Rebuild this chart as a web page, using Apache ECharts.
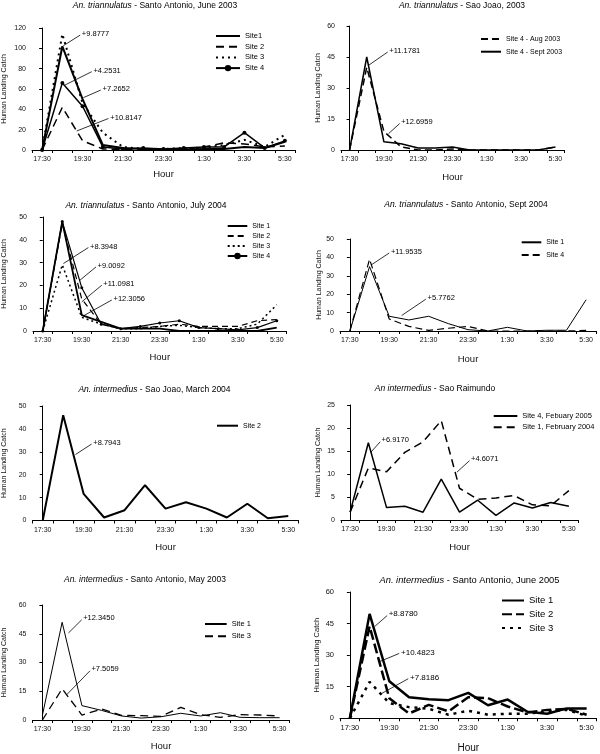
<!DOCTYPE html>
<html><head><meta charset="utf-8">
<script src="https://cdn.jsdelivr.net/npm/echarts@6/dist/echarts.min.js"></script>
<style>html,body{margin:0;padding:0;background:#fff}#c{width:600px;height:754px}</style>
</head><body><div id="c"></div>
<script>
// ---- data ----
const hours = ['17:30','18:30','19:30','20:30','21:30','22:30','23:30','0:30','1:30','2:30','3:30','4:30','5:30'];

const p1Names = ['Site1','Site 2','Site 3','Site 4'];
const p1Site1 = [0, 102, 50, 5, 2, 1, 0.5, 0.5, 1, 1, 3, 2, 8];
const p1Site2 = [0, 42, 9, 1, 0.5, 0.5, 0.5, 1, 3, 7, 6, 3, 4];
const p1Site3 = [0, 114, 46, 17, 3, 1, 1, 2, 2, 5, 10, 3, 15];
const p1Site4 = [0, 66, 43, 3, 1, 2, 1, 2, 3, 3, 17, 2, 9];
const p1Notes = [[1.05,102.6,1.88,113,'+9.8777'],[1.14,64,2.45,77,'+4.2531'],[2.04,51.5,2.9,59,'+7.2652'],[1.71,18.7,3.28,31,'+10.8147']];

const p2Names = ['Site 4 - Aug 2003','Site 4 - Sept 2003'];
const p2Aug  = [0, 40, 9, 1.5, 0, 0, 0.5, 0, 0, 0, 0, 0, 1.5];
const p2Sept = [0, 45, 4, 3, 1, 1, 1.5, 0, 0, 0, 0, 0, 1.5];
const p2Notes = [[1.11,41,2.22,47.4,'+11.1781'],[2.27,7.9,2.92,12.8,'+12.6959']];

const p3Names = ['Site 1','Site 2','Site 3','Site 4'];
const p3Site1 = [0, 48, 7, 4, 1, 1, 1, 0, 0, 0, 0, 0, 1.5];
const p3Site2 = [0, 47, 14, 3, 1, 1.5, 2, 3, 2, 2, 2, 4.5, 5];
const p3Site3 = [0, 29, 6, 3, 1, 1, 2, 2.5, 1.5, 1, 1, 3, 11.5];
const p3Site4 = [0, 48, 19, 3, 1, 2, 3.5, 4.5, 1.5, 1, 0.5, 1.5, 4.5];
const p3Notes = [[1.06,29.6,2.34,36.6,'+8.3948'],[1.91,22.3,2.73,28.1,'+9.0092'],[2.0,12.8,3.03,20.1,'+11.0981'],[2.08,6.6,3.54,13.6,'+12.3056']];

const p4Names = ['Site 1','Site 4'];
const p4Site1 = [0, 35, 8, 6, 8, 4, 0.7, 0, 2, 0, 0.4, 0.4, 17];
const p4Site4 = [0, 39, 6.5, 2.5, 0.3, 1.5, 2.5, 0, 0, 0, 0, 0, 0.3];
const p4Notes = [[1.1,36,2.0,42.4,'+11.9535'],[2.63,8.4,3.86,17.3,'+5.7762']];

const p5Names = ['Site 2'];
const p5Site2 = [0, 46, 11.6, 1.3, 4.5, 15.4, 5.2, 8, 5.2, 1.3, 7.3, 1, 2];
const p5Notes = [[1.6,28.8,2.39,33.4,'+8.7943']];

const p6Names = ['Site 4, Febuary 2005','Site 1, February 2004'];
const p6Site4 = [1.7, 16.8, 2.7, 3, 1.7, 8.9, 1.7, 4.3, 1, 3.7, 2.6, 3.8, 3];
const p6Site1 = [1.7, 11.3, 10.5, 14.7, 17, 21.6, 6.9, 4.5, 4.8, 5.3, 3.3, 3.1, 6.4];
const p6Notes = [[1.13,14.7,1.65,17,'+6.9170'],[5.86,10.4,6.55,12.9,'+4.6071']];

const p7Names = ['Site 1','Site 3'];
const p7Site1 = [2.4, 51, 7.5, 5, 2.1, 1, 1.7, 3.5, 2.1, 3.8, 1.4, 1.2, 1.2];
const p7Site3 = [0, 16.3, 2.6, 5.7, 2.4, 2.3, 1.9, 6.6, 2.8, 1.4, 2.8, 2.6, 2.1];
const p7Notes = [[1.32,45.4,1.99,52.3,'+12.3450'],[1.23,13.2,2.41,25.7,'+7.5059']];

const p8Names = ['Site 1','Site 2','Site 3'];
const p8Site1 = [0, 49.6, 17.6, 10, 9, 8.6, 12.1, 6.2, 8.9, 3.1, 2.2, 4.7, 4.7];
const p8Site2 = [0, 43.7, 9.5, 2.3, 6.4, 3.3, 10, 9.6, 5.6, 2.8, 4, 4.5, 1.7];
const p8Site3 = [0, 17.3, 7.2, 5.3, 4.5, 1.7, 3.6, 1.7, 2.2, 2.2, 3.3, 4, 1.2];
const p8Notes = [[1.27,43.7,1.89,48.8,'+8.8780'],[1.52,27,2.5,30.8,'+10.4823'],[1.61,11.8,2.96,18.8,'+7.8186']];

const titles = [
  ['An. triannulatus',' - Santo Antonio, June 2003'],
  ['An. triannulatus',' - Sao Joao, 2003'],
  ['An. triannulatus',' - Santo Antonio, July 2004'],
  ['An. triannulatus',' - Santo Antonio, Sept 2004'],
  ['An. intermedius',' - Sao Joao, March 2004'],
  ['An intermedius',' - Sao Raimundo'],
  ['An. intermedius',' - Santo Antonio, May 2003'],
  ['An. intermedius',' - Santo Antonio, June 2005']
];
const yMaxes = [120, 60, 50, 50, 50, 25, 60, 60];
const ySteps = [20, 15, 10, 10, 10, 5, 15, 15];

// ---- layout / style ----
const FONT = "'Liberation Sans', Arial, sans-serif";
const panels = [
 { t:[155,6,8.5], grid:{left:32,top:28,width:263,height:122}, hourGap:19, yGap:24, fs:7,
   lg:{left:215,top:32,w:24,gap:2.7,fs:7.5}, notes:p1Notes,
   lines:[{n:p1Names[0],d:p1Site1,w:2},{n:p1Names[1],d:p1Site2,w:1.5,dash:[8,5]},{n:p1Names[2],d:p1Site3,w:2,dash:[2,4]},{n:p1Names[3],d:p1Site4,w:1.5,sym:'circle',ss:4}] },
 { t:[462,6,8.5], grid:{left:341,top:26,width:223,height:124}, hourGap:22, yGap:19.5, fs:7,
   lg:{left:480,top:35,w:20,gap:4.7,fs:7}, notes:p2Notes,
   lines:[{n:p2Names[0],d:p2Aug,w:1.5,dash:[7,4]},{n:p2Names[1],d:p2Sept,w:1.5}] },
 { t:[146,205.3,8.5], grid:{left:33,top:217,width:253.5,height:114}, hourGap:21.3, yGap:25, fs:7,
   lg:{left:226.7,top:222,w:19.6,gap:2,fs:7}, notes:p3Notes,
   lines:[{n:p3Names[0],d:p3Site1,w:1.8},{n:p3Names[1],d:p3Site2,w:1.2,dash:[6,4]},{n:p3Names[2],d:p3Site3,w:1.5,dash:[2,3]},{n:p3Names[3],d:p3Site4,w:1.2,sym:'circle',ss:3}] },
 { t:[466,205,8.5], grid:{left:340,top:239,width:256,height:92}, hourGap:23, yGap:17.7, fs:7,
   lg:{left:520.7,top:238.3,w:19.6,gap:4.7,fs:7}, notes:p4Notes,
   lines:[{n:p4Names[0],d:p4Site1,w:1},{n:p4Names[1],d:p4Site4,w:1.2,dash:[7,4]}] },
 { t:[154.5,390,8.5], grid:{left:32.5,top:406,width:266,height:114.5}, hourGap:22, yGap:24.5, fs:7,
   lg:{left:216,top:421.7,w:21,gap:3,fs:7}, notes:p5Notes,
   lines:[{n:p5Names[0],d:p5Site2,w:2}] },
 { t:[435,389,8.5], grid:{left:341,top:405,width:237,height:115}, hourGap:22.4, yGap:19.7, fs:7,
   lg:{left:492.7,top:412,w:23.6,gap:3.3,fs:7.5}, notes:p6Notes,
   lines:[{n:p6Names[0],d:p6Site4,w:1.5},{n:p6Names[1],d:p6Site1,w:1.5,dash:[8,5]}] },
 { t:[145,580,8.5], grid:{left:32.5,top:605,width:257,height:115}, hourGap:21.7, yGap:24.5, fs:7,
   lg:{left:204,top:620,w:21.7,gap:4.3,fs:7.5}, notes:p7Notes,
   lines:[{n:p7Names[0],d:p7Site1,w:1},{n:p7Names[1],d:p7Site3,w:1.3,dash:[8,5]}] },
 { t:[469.5,580,9.3], grid:{left:340,top:592,width:256.5,height:128.5}, hourGap:24.7, yGap:18.7, fs:7.5,
   lg:{left:501,top:595.5,w:22,gap:3.8,fs:9.5,lh:9}, notes:p8Notes,
   lines:[{n:p8Names[0],d:p8Site1,w:2.5},{n:p8Names[1],d:p8Site2,w:2.5,dash:[10,4]},{n:p8Names[2],d:p8Site3,w:2.5,dash:[3,5]}] }
];

const grid = [], xAxis = [], yAxis = [], series = [], legend = [], graphic = [];
const axisLine = {show:true, lineStyle:{color:'#000', width:1}};
const hiddenDot = {color:'rgba(0,0,0,0)', borderWidth:0, opacity:0};
panels.forEach((p, i) => {
  grid.push(Object.assign({}, p.grid));
  xAxis.push({
    type:'category', gridIndex:i, data:hours, boundaryGap:true,
    axisLine, axisTick:{show:true, interval:0, length:3, lineStyle:{color:'#000'}},
    axisLabel:{interval:1, fontSize:p.fs, color:'#111', margin:6, fontFamily:FONT},
    splitLine:{show:false},
    name:'Hour', nameLocation:'middle', nameGap:p.hourGap,
    nameTextStyle:{fontSize:i===7?10:9.5, color:'#111', fontFamily:FONT}
  });
  yAxis.push({
    type:'value', gridIndex:i, min:0, max:yMaxes[i], interval:ySteps[i],
    axisLine, axisTick:{show:true, length:3, lineStyle:{color:'#000'}},
    axisLabel:{fontSize:p.fs, color:'#111', margin:6, fontFamily:FONT},
    splitLine:{show:false},
    name:'Human Landing Catch', nameLocation:'middle', nameGap:p.yGap,
    nameTextStyle:{fontSize:i===7?7.5:7, color:'#111', fontFamily:FONT}
  });
  const items = [];
  p.lines.forEach(l => {
    const nm = i + '|' + l.n;
    items.push(l.sym ? {name:nm} : {name:nm, itemStyle:hiddenDot});
    series.push({
      type:'line', name:nm, xAxisIndex:i, yAxisIndex:i, data:l.d,
      symbol:l.sym || 'none', symbolSize:l.ss || 0, showSymbol:!!l.sym,
      itemStyle:{color:'#000'}, clip:false, silent:true,
      lineStyle:{color:'#000', width:l.w, type:l.dash || 'solid'}
    });
  });
  legend.push({
    orient:'vertical', left:p.lg.left, top:p.lg.top, itemWidth:p.lg.w, itemHeight:8,
    itemGap:p.lg.gap, padding:0, selectedMode:false, data:items,
    formatter: s => s.split('|')[1],
    textStyle:{fontSize:p.lg.fs, color:'#000', fontFamily:FONT, lineHeight:p.lg.lh || 8}
  });
  graphic.push({
    type:'text', x:p.t[0], y:p.t[1],
    style:{
      text:'{i|' + titles[i][0] + '}{n|' + titles[i][1] + '}',
      align:'center', verticalAlign:'middle',
      rich:{
        i:{fontStyle:'italic', fontSize:p.t[2], fontFamily:FONT, fill:'#000', color:'#000'},
        n:{fontSize:p.t[2], fontFamily:FONT, fill:'#000', color:'#000'}
      }
    }
  });
});
// hidden value axes for annotation arrows (category index space)
panels.forEach((p, i) => {
  xAxis.push({type:'value', gridIndex:i, min:-0.5, max:12.5, show:false});
  series.push({
    type:'line', xAxisIndex:8 + i, yAxisIndex:i, data:[], silent:true,
    markLine:{
      silent:true, animation:false, symbol:['none','arrow'], symbolSize:[0,5],
      lineStyle:{color:'#000', width:0.8, type:'solid'},
      label:{show:true, position:'end', formatter:'{b}', fontSize:i===7?8:7.5, color:'#000',
             fontFamily:FONT, distance:2, align:'left', verticalAlign:'middle'},
      data:p.notes.map(n => [{coord:[n[0], n[1]], name:n[4]}, {coord:[n[2], n[3]]}])
    }
  });
});

const chart = echarts.init(document.getElementById('c'), null, {renderer:'canvas'});
chart.setOption({
  animation:false, backgroundColor:'#fff',
  grid, xAxis, yAxis, series, legend, graphic
});
</script>
</body></html>
